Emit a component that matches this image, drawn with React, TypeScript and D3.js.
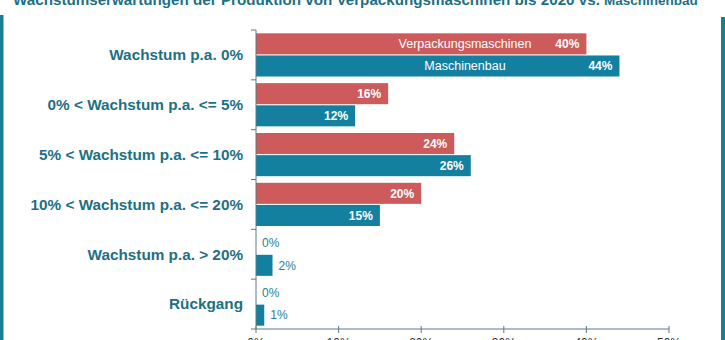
import React from "react";
import * as d3 from "d3";

const categories = [
  "Wachstum p.a. 0%",
  "0% < Wachstum p.a. <= 5%",
  "5% < Wachstum p.a. <= 10%",
  "10% < Wachstum p.a. <= 20%",
  "Wachstum p.a. > 20%",
  "Rückgang",
];
const seriesNames = ["Verpackungsmaschinen", "Maschinenbau"];
const verpackung = [40, 16, 24, 20, 0, 0];
const maschinenbau = [44, 12, 26, 15, 2, 1];
const xTicks = [0, 10, 20, 30, 40, 50];
const titleMain = "Wachstumserwartungen der Produktion von Verpackungsmaschinen bis 2020 vs. ";
const titleSmall = "Maschinenbau";

const W = 725;
const H = 340;
const RED = "#cd5b5b";
const TEAL = "#14809f";
const DARK = "#1d7083";
const AXIS = "#5b7a86";
const FONT = "'Liberation Sans', Arial, sans-serif";

export default function App() {
  const x = d3.scaleLinear().domain([0, 50]).range([256, 669]);
  const y = d3.scaleBand<string>().domain(categories).range([30, 329]).padding(0);
  const sub = d3
    .scaleBand<string>()
    .domain(seriesNames)
    .range([0, y.bandwidth()])
    .paddingInner(0.05)
    .paddingOuter(0.15);
  const seriesData = [verpackung, maschinenbau];
  const colors = [RED, TEAL];
  const bh = sub.bandwidth();

  return (
    <svg
      width={W}
      height={H}
      style={{ position: "fixed", left: 0, top: 0, background: "#fff", fontFamily: FONT }}
    >
      <rect x={0} y={0} width={W} height={H} fill="#fff" />
      {/* frame edges */}
      <rect x={0} y={15} width={3.5} height={H - 15} fill="#177e93" />
      <rect x={721} y={17} width={4} height={H - 17} fill="#177e93" />

      {/* title */}
      <text x={13} y={5} textAnchor="start" fill={DARK} fontWeight="bold" fontSize={15.2}>
        {titleMain}
        <tspan fontSize={13.5}>{titleSmall}</tspan>
      </text>

      {/* bars */}
      {seriesData.map((vals, si) =>
        vals.map((v, i) => {
          const y0 = (y(categories[i]) as number) + (sub(seriesNames[si]) as number);
          const w = x(v) - x(0);
          const inside = v >= 10;
          return (
            <g key={`${si}-${i}`}>
              {v > 0 && <rect x={x(0)} y={y0} width={w} height={bh} fill={colors[si]} />}
              <text
                x={inside ? x(v) - 7 : x(v) + 6}
                y={y0 + bh / 2}
                dy="0.35em"
                textAnchor={inside ? "end" : "start"}
                fill={inside ? "#fff" : "#2a7d93"}
                fontWeight={inside ? "bold" : "normal"}
                fontSize={12}
              >
                {`${v}%`}
              </text>
            </g>
          );
        })
      )}

      {/* series names inside first bars */}
      {seriesNames.map((s, si) => {
        const y0 = (y(categories[0]) as number) + (sub(s) as number);
        return (
          <text
            key={s}
            x={x(25.3)}
            y={y0 + bh / 2}
            dy="0.35em"
            textAnchor="middle"
            fill="#fff"
            fontSize={12.5}
          >
            {s}
          </text>
        );
      })}

      {/* category labels */}
      {categories.map((c) => (
        <text
          key={c}
          x={243}
          y={(y(c) as number) + y.bandwidth() / 2}
          dy="0.35em"
          textAnchor="end"
          fill={DARK}
          fontWeight="bold"
          fontSize={15.3}
        >
          {c}
        </text>
      ))}

      {/* y axis */}
      <line x1={x(0)} x2={x(0)} y1={30} y2={329} stroke={AXIS} strokeWidth={1} />
      {[...categories.map((c) => y(c) as number), 329].map((ty, i) => (
        <line key={i} x1={x(0) - 5} x2={x(0)} y1={ty} y2={ty} stroke={AXIS} />
      ))}

      {/* x axis */}
      <line x1={x(0)} x2={x(50)} y1={329} y2={329} stroke={AXIS} />
      {xTicks.map((t) => (
        <g key={t}>
          <line x1={x(t)} x2={x(t)} y1={326} y2={333} stroke={AXIS} />
          <text x={x(t)} y={347} textAnchor="middle" fill="#333" fontSize={12}>
            {`${t}%`}
          </text>
        </g>
      ))}
    </svg>
  );
}
